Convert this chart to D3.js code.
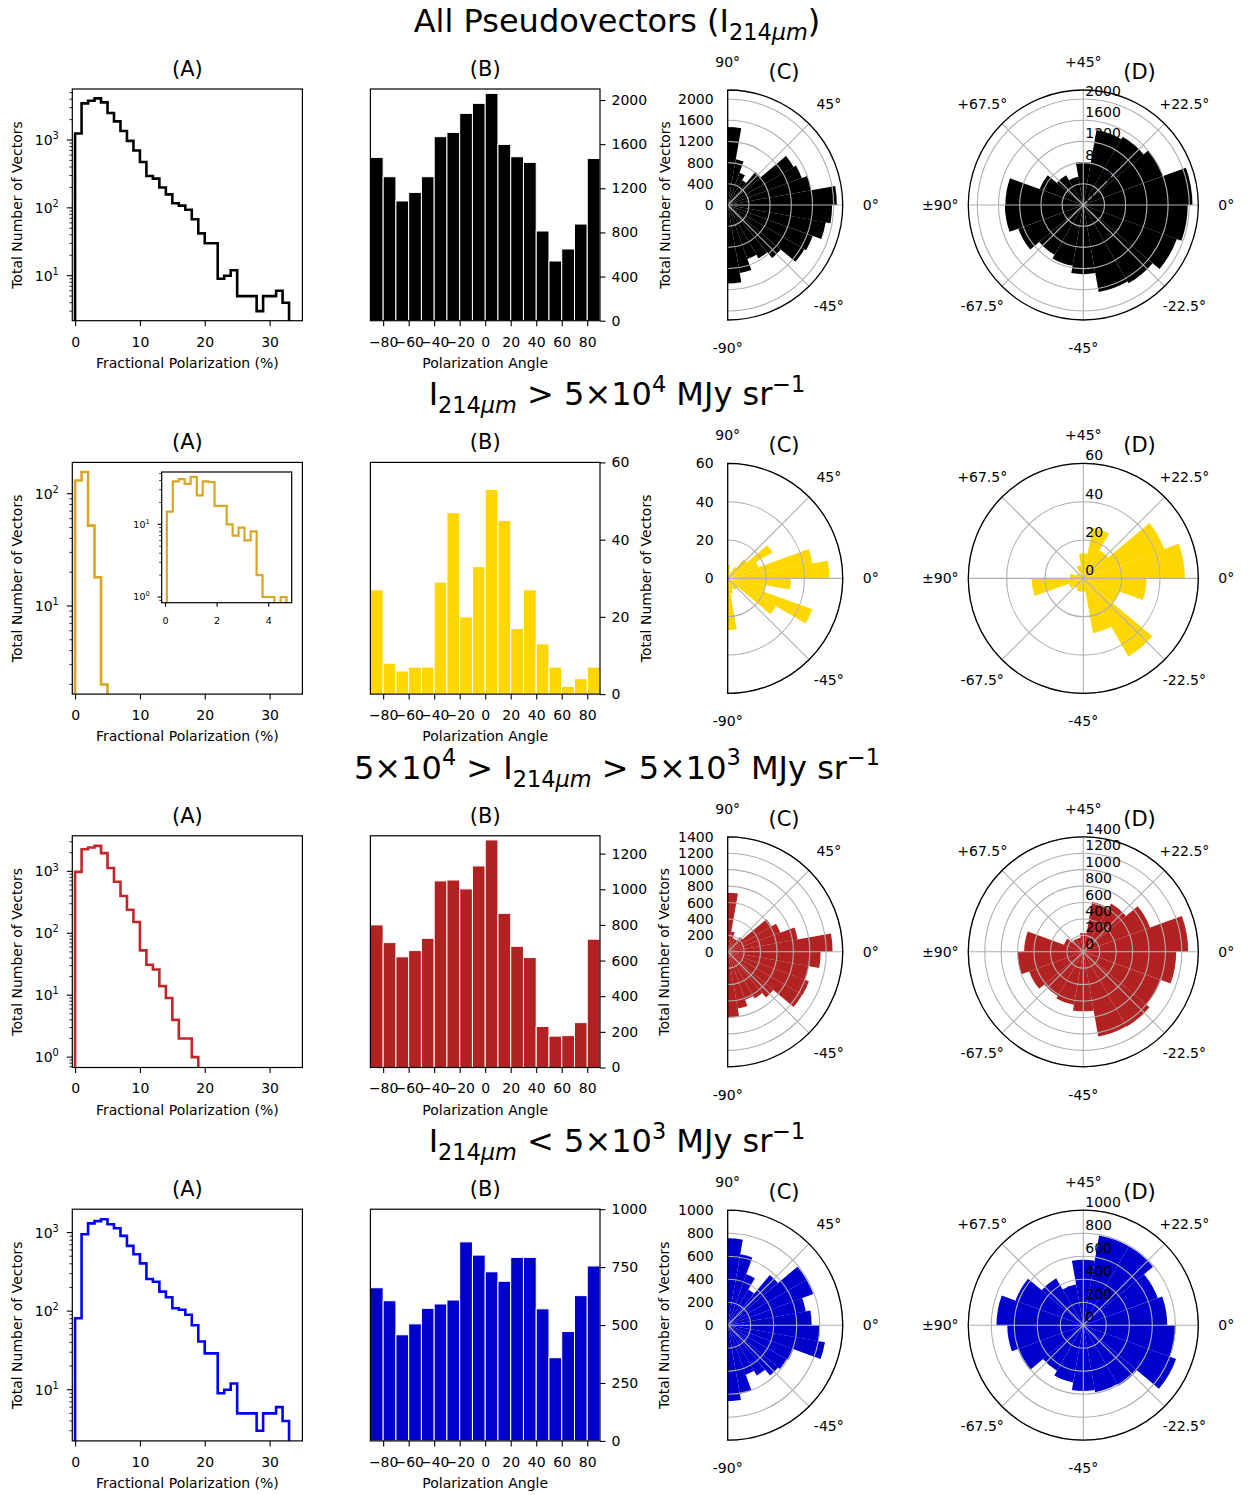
<!DOCTYPE html>
<html>
<head>
<meta charset="utf-8">
<script src="https://cdn.jsdelivr.net/npm/d3@7"></script>
<style>
  body { margin: 0; background: #fff; }
  svg { font-family: "DejaVu Sans", sans-serif; }
</style>
</head>
<body>
<svg id="fig" width="1247" height="1495"></svg>
<script>
// ---- bin edges ----
var angleEdges = [-90, -80, -70, -60, -50, -40, -30, -20, -10, 0, 10, 20, 30, 40, 50, 60, 70, 80, 90];
var fracEdges = [0, 1, 2, 3, 4, 5, 6, 7, 8, 9, 10, 11, 12, 13, 14, 15, 16, 17, 18, 19, 20,
                 21, 22, 23, 24, 25, 26, 27, 28, 29, 30, 31, 32, 33];
var insetEdges = [0.07, 0.30, 0.53, 0.76, 0.99, 1.23, 1.46, 1.69, 1.92, 2.15, 2.39,
                  2.62, 2.85, 3.08, 3.32, 3.55, 3.78, 4.01, 4.24, 4.48, 4.71];

// ---- fractional polarization counts (1% bins) ----
var fracAll = [1250, 3470, 3800, 4110, 3590, 2500, 1880, 1360, 970, 700, 475, 295, 270, 200, 158, 117,
               108, 94, 68, 42, 30, 30, 9, 10, 12, 5, 5, 5, 3, 5, 5, 6, 4];
var fracBright = [131, 156, 52, 18, 2];
var fracMid = [980, 2280, 2430, 2580, 1970, 1130, 680, 400, 240, 152, 53, 31, 26, 14, 9, 4, 2, 2, 1];
var fracFaint = [81, 950, 1310, 1400, 1475, 1275, 1135, 908, 677, 530, 405, 256, 237, 177, 150, 109,
                 104, 90, 66, 41, 29, 29, 9, 10, 12, 5, 5, 5, 3, 5, 5, 6, 4];
var fracBrightInset = [15, 39, 42, 36, 45, 25, 39, 38, 18, 18, 10, 7, 9, 6, 8, 2, 1, 1, 0, 1];

// ---- polarization angle counts (10 deg bins) ----
var angAll = [1480, 1305, 1085, 1163, 1305, 1668, 1707, 1879, 1970, 2060, 1598, 1486, 1435, 813, 541, 650, 876, 1471];
var angBright = [27, 8, 6, 7, 7, 29, 47, 20, 33, 53, 45, 17, 27, 13, 7, 2, 4, 7];
var angMid = [800, 701, 621, 656, 725, 1047, 1052, 1002, 1131, 1277, 865, 680, 617, 230, 176, 179, 252, 720];
var angFaint = [661, 605, 458, 505, 572, 591, 608, 859, 802, 730, 689, 792, 792, 570, 359, 472, 627, 755];

// ---- ticks / limits ----
var fracXLim = [-0.43, 35.06];
var fracXTicks = [0, 10, 20, 30];
var fracYLims = [[2.17, 5650], [1.64, 190], [0.68, 3750], [2.23, 1983]];
var fracYTicks = [[10, 100, 1000], [10, 100], [1, 10, 100, 1000], [10, 100, 1000]];
var angXTicks = [-80, -60, -40, -20, 0, 20, 40, 60, 80];
var angYMax = [2100, 60, 1300, 1000];
var angYTicks = [[0, 400, 800, 1200, 1600, 2000], [0, 20, 40, 60],
                 [0, 200, 400, 600, 800, 1000, 1200], [0, 250, 500, 750, 1000]];
var polarRMax = [2170, 60, 1400, 1000];
var polarRTicks = [[0, 400, 800, 1200, 1600, 2000], [0, 20, 40, 60],
                   [0, 200, 400, 600, 800, 1000, 1200, 1400], [0, 200, 400, 600, 800, 1000]];
var halfThetaTicks = [90, 45, 0, -45, -90];
var halfThetaLabels = ["90°", "45°", "0°", "-45°", "-90°"];
var fullThetaTicks = [90, 45, 0, -45, -90, -135, 180, 135];
var fullThetaLabels = ["+45°", "+22.5°", "0°", "-22.5°", "-45°", "-67.5°", "±90°", "+67.5°"];
var insetXTicks = [0, 2, 4];
var insetYTicks = [1, 10];

var stepColors = ["#000000", "#daa520", "#c2262b", "#0000ff"];
var barColors = ["#000000", "#ffd700", "#b22222", "#0000cd"];

var sectionTitles = [
  [["All Pseudovectors ("], ["I"], ["214", "sub"], ["μm", "sub", true], [")"]],
  [["I"], ["214", "sub"], ["μm", "sub", true], [" > 5×10"], ["4", "sup"], [" MJy sr"], ["−1", "sup"]],
  [["5×10"], ["4", "sup"], [" > I"], ["214", "sub"], ["μm", "sub", true], [" > 5×10"], ["3", "sup"], [" MJy sr"], ["−1", "sup"]],
  [["I"], ["214", "sub"], ["μm", "sub", true], [" < 5×10"], ["3", "sup"], [" MJy sr"], ["−1", "sup"]]
];

var fracCounts = [fracAll, fracBright, fracMid, fracFaint];
var angCounts = [angAll, angBright, angMid, angFaint];

// ---- layout ----
var FONT = '"DejaVu Sans", sans-serif';
var ROW_DY = 373.4;
var FS = 14;
var TITLE_FS = 32;
var SUB_FS = 21;
var GRID = "#b0b0b0";
var A_BOX = {x0: 72.3, x1: 302.4, y0: 89, y1: 320.7};
var B_BOX = {x0: 370.4, x1: 600, y0: 89, y1: 320.7};
var IN_BOX = {x0: 161.7, x1: 291.7, y0: 98.6, y1: 229.3};
var C_CEN = {x: 727.7, y: 205};
var D_CEN = {x: 1083.3, y: 205};
var POL_R = 115;
var cLabelX = [665, 646, 664, 664];

var svg = d3.select('#fig');

function rad(d) { return d * Math.PI / 180; }

function addRich(sel, segs, fs) {
  var cur = 0;
  segs.forEach(function(s) {
    var mode = s[1] || 'n';
    var shift = mode === 'sub' ? 0.25 * fs : (mode === 'sup' ? -0.42 * fs : 0);
    var ts = sel.append('tspan').text(s[0]);
    if (shift !== cur) ts.attr('dy', shift - cur);
    if (mode !== 'n') ts.attr('font-size', (fs * 0.7) + 'px');
    if (s[2]) ts.attr('font-style', 'italic');
    cur = shift;
  });
}

function styleAxis(ax, fs) {
  ax.attr('font-family', FONT).attr('font-size', fs);
  ax.select('.domain').remove();
  ax.selectAll('.tick line').attr('stroke', '#000').attr('stroke-width', 1.1);
  ax.selectAll('.tick text').attr('fill', '#000');
}

function drawLogAxis(g, y, dom, majors, x0, fs, lenMaj, lenMin, gap) {
  var lo = Math.floor(Math.log10(dom[0])), hi = Math.ceil(Math.log10(dom[1]));
  var minors = [];
  for (var e = lo; e <= hi; e++) {
    for (var k = 2; k <= 9; k++) {
      var v = k * Math.pow(10, e);
      if (v >= dom[0] && v <= dom[1]) minors.push(v);
    }
  }
  g.selectAll(null).data(minors).enter().append('line')
    .attr('x1', x0).attr('x2', x0 - lenMin)
    .attr('y1', function(d) { return y(d); }).attr('y2', function(d) { return y(d); })
    .attr('stroke', '#000').attr('stroke-width', 0.8);
  g.selectAll(null).data(majors).enter().append('line')
    .attr('x1', x0).attr('x2', x0 - lenMaj)
    .attr('y1', function(d) { return y(d); }).attr('y2', function(d) { return y(d); })
    .attr('stroke', '#000').attr('stroke-width', 1.1);
  majors.forEach(function(v) {
    var t = g.append('text').attr('x', x0 - lenMaj - gap).attr('y', y(v) + fs * 0.36)
      .attr('text-anchor', 'end').attr('font-size', fs + 'px');
    addRich(t, [["10"], [String(Math.round(Math.log10(v))), "sup"]], fs);
  });
}

function stepPath(edges, counts, x, y, yBottom) {
  var pts = [[x(edges[0]), yBottom]];
  counts.forEach(function(c, i) {
    var yy = c > 0 ? y(c) : yBottom;
    pts.push([x(edges[i]), yy]);
    pts.push([x(edges[i + 1]), yy]);
  });
  pts.push([x(edges[counts.length]), yBottom]);
  return d3.line()(pts);
}

function frame(g, b) {
  g.append('rect').attr('x', b.x0).attr('y', b.y0)
    .attr('width', b.x1 - b.x0).attr('height', b.y1 - b.y0)
    .attr('fill', 'none').attr('stroke', '#000').attr('stroke-width', 1.2);
}

function clipRect(g, id, b) {
  g.append('clipPath').attr('id', id).append('rect')
    .attr('x', b.x0).attr('y', b.y0).attr('width', b.x1 - b.x0).attr('height', b.y1 - b.y0);
}

function drawFracPanel(g, r) {
  var b = A_BOX;
  var x = d3.scaleLinear().domain(fracXLim).range([b.x0, b.x1]);
  var y = d3.scaleLog().domain(fracYLims[r]).range([b.y1, b.y0]);
  var counts = fracCounts[r];
  clipRect(g, 'clipA' + r, b);
  g.append('path')
    .attr('d', stepPath(fracEdges, counts, x, y, b.y1 + 20))
    .attr('fill', 'none').attr('stroke', stepColors[r]).attr('stroke-width', 2.6)
    .attr('clip-path', 'url(#clipA' + r + ')');
  frame(g, b);
  g.append('g').attr('transform', 'translate(0,' + b.y1 + ')')
    .call(d3.axisBottom(x).tickValues(fracXTicks).tickFormat(d3.format('d')).tickSize(5.5).tickPadding(10.5))
    .call(styleAxis, FS);
  drawLogAxis(g, y, fracYLims[r], fracYTicks[r], b.x0, FS, 5.5, 3, 8);
  g.append('text').attr('x', (b.x0 + b.x1) / 2).attr('y', 368).attr('text-anchor', 'middle')
    .attr('font-size', FS + 'px').text('Fractional Polarization (%)');
  g.append('text').attr('transform', 'translate(22.4,205) rotate(-90)').attr('text-anchor', 'middle')
    .attr('font-size', FS + 'px').text('Total Number of Vectors');
  g.append('text').attr('x', (b.x0 + b.x1) / 2).attr('y', 76).attr('text-anchor', 'middle')
    .attr('font-size', SUB_FS + 'px').text('(A)');

  if (r === 1) {
    var ib = IN_BOX;
    var ix = d3.scaleLinear().domain([-0.13, 4.91]).range([ib.x0, ib.x1]);
    var iy = d3.scaleLog().domain([0.835, 52.5]).range([ib.y1, ib.y0]);
    g.append('rect').attr('x', ib.x0).attr('y', ib.y0).attr('width', ib.x1 - ib.x0)
      .attr('height', ib.y1 - ib.y0).attr('fill', '#fff');
    clipRect(g, 'clipInset', ib);
    g.append('path')
      .attr('d', stepPath(insetEdges, fracBrightInset, ix, iy, ib.y1 + 20))
      .attr('fill', 'none').attr('stroke', stepColors[r]).attr('stroke-width', 2.2)
      .attr('clip-path', 'url(#clipInset)');
    frame(g, ib);
    g.append('g').attr('transform', 'translate(0,' + ib.y1 + ')')
      .call(d3.axisBottom(ix).tickValues(insetXTicks).tickFormat(d3.format('d')).tickSize(4).tickPadding(11))
      .call(styleAxis, 9.5);
    drawLogAxis(g, iy, [0.835, 52.5], insetYTicks, ib.x0, 9.5, 4, 2.5, 8);
  }
}

function drawAnglePanel(g, r) {
  var b = B_BOX;
  var x = d3.scaleLinear().domain([-90, 90]).range([b.x0, b.x1]);
  var y = d3.scaleLinear().domain([0, angYMax[r]]).range([b.y1, b.y0]);
  var counts = angCounts[r];
  g.selectAll(null).data(counts).enter().append('rect')
    .attr('x', function(d, i) { return x(angleEdges[i]); })
    .attr('width', function(d, i) { return x(angleEdges[i + 1]) - x(angleEdges[i]); })
    .attr('y', function(d) { return y(d); })
    .attr('height', function(d) { return b.y1 - y(d); })
    .attr('fill', barColors[r]).attr('stroke', '#fff').attr('stroke-width', 1);
  frame(g, b);
  g.append('g').attr('transform', 'translate(0,' + b.y1 + ')')
    .call(d3.axisBottom(x).tickValues(angXTicks).tickFormat(d3.format('d')).tickSize(5.5).tickPadding(10.5))
    .call(styleAxis, FS);
  g.append('g').attr('transform', 'translate(' + b.x1 + ',0)')
    .call(d3.axisRight(y).tickValues(angYTicks[r]).tickFormat(d3.format('d')).tickSize(5.5).tickPadding(6))
    .call(styleAxis, FS);
  g.append('text').attr('x', (b.x0 + b.x1) / 2).attr('y', 368).attr('text-anchor', 'middle')
    .attr('font-size', FS + 'px').text('Polarization Angle');
  g.append('text').attr('x', (b.x0 + b.x1) / 2).attr('y', 76).attr('text-anchor', 'middle')
    .attr('font-size', SUB_FS + 'px').text('(B)');
}

function drawHalfPolar(g, r) {
  var rs = d3.scaleLinear().domain([0, polarRMax[r]]).range([0, POL_R]);
  var gg = g.append('g').attr('transform', 'translate(' + C_CEN.x + ',' + C_CEN.y + ')');
  var arc = d3.arc().innerRadius(0);
  gg.selectAll(null).data(angCounts[r]).enter().append('path')
    .attr('d', function(c, i) {
      return arc({outerRadius: rs(c),
                  startAngle: Math.PI / 2 - rad(angleEdges[i + 1]),
                  endAngle: Math.PI / 2 - rad(angleEdges[i])});
    })
    .attr('fill', barColors[r]);
  polarRTicks[r].filter(function(v) { return v > 0; }).forEach(function(v) {
    var p = d3.path();
    p.arc(0, 0, rs(v), -Math.PI / 2, Math.PI / 2);
    gg.append('path').attr('d', p.toString()).attr('fill', 'none')
      .attr('stroke', GRID).attr('stroke-width', 1.1);
  });
  [45, 0, -45].forEach(function(a) {
    gg.append('line').attr('x1', 0).attr('y1', 0)
      .attr('x2', POL_R * Math.cos(rad(a))).attr('y2', -POL_R * Math.sin(rad(a)))
      .attr('stroke', GRID).attr('stroke-width', 1.1);
  });
  var sp = d3.path();
  sp.moveTo(0, -POL_R);
  sp.arc(0, 0, POL_R, -Math.PI / 2, Math.PI / 2);
  sp.closePath();
  gg.append('path').attr('d', sp.toString()).attr('fill', 'none')
    .attr('stroke', '#000').attr('stroke-width', 1.3);
  polarRTicks[r].forEach(function(v) {
    gg.append('text').attr('x', -14).attr('y', -rs(v) + 5).attr('text-anchor', 'end')
      .attr('font-size', FS + 'px').text(v);
  });
  halfThetaTicks.forEach(function(a, i) {
    gg.append('text').attr('x', 143 * Math.cos(rad(a))).attr('y', -143 * Math.sin(rad(a)) + 5)
      .attr('text-anchor', 'middle').attr('font-size', FS + 'px').text(halfThetaLabels[i]);
  });
  g.append('text').attr('transform', 'translate(' + (cLabelX[r] + 4.6) + ',205) rotate(-90)')
    .attr('text-anchor', 'middle').attr('font-size', FS + 'px').text('Total Number of Vectors');
  g.append('text').attr('x', 784).attr('y', 79).attr('text-anchor', 'middle')
    .attr('font-size', SUB_FS + 'px').text('(C)');
}

function drawFullPolar(g, r) {
  var rs = d3.scaleLinear().domain([0, polarRMax[r]]).range([0, POL_R]);
  var gg = g.append('g').attr('transform', 'translate(' + D_CEN.x + ',' + D_CEN.y + ')');
  var arc = d3.arc().innerRadius(0);
  // doubled angles: full circle
  gg.selectAll(null).data(angCounts[r]).enter().append('path')
    .attr('d', function(c, i) {
      return arc({outerRadius: rs(c),
                  startAngle: Math.PI / 2 - 2 * rad(angleEdges[i + 1]),
                  endAngle: Math.PI / 2 - 2 * rad(angleEdges[i])});
    })
    .attr('fill', barColors[r]);
  polarRTicks[r].filter(function(v) { return v > 0; }).forEach(function(v) {
    gg.append('circle').attr('r', rs(v)).attr('fill', 'none')
      .attr('stroke', GRID).attr('stroke-width', 1.1);
  });
  [0, 45, 90, 135, 180, 225, 270, 315].forEach(function(a) {
    gg.append('line').attr('x1', 0).attr('y1', 0)
      .attr('x2', POL_R * Math.cos(rad(a))).attr('y2', -POL_R * Math.sin(rad(a)))
      .attr('stroke', GRID).attr('stroke-width', 1.1);
  });
  gg.append('circle').attr('r', POL_R).attr('fill', 'none')
    .attr('stroke', '#000').attr('stroke-width', 1.3);
  polarRTicks[r].forEach(function(v) {
    gg.append('text').attr('x', 2).attr('y', -rs(v) - 3).attr('text-anchor', 'start')
      .attr('font-size', FS + 'px').text(v);
  });
  fullThetaTicks.forEach(function(a, i) {
    gg.append('text').attr('x', 143 * Math.cos(rad(a))).attr('y', -143 * Math.sin(rad(a)) + 5)
      .attr('text-anchor', 'middle').attr('font-size', FS + 'px').text(fullThetaLabels[i]);
  });
  g.append('text').attr('x', 1139.5).attr('y', 79).attr('text-anchor', 'middle')
    .attr('font-size', SUB_FS + 'px').text('(D)');
}

[0, 1, 2, 3].forEach(function(r) {
  var g = svg.append('g').attr('transform', 'translate(0,' + (r * ROW_DY) + ')');
  var t = g.append('text').attr('x', 617).attr('y', 32).attr('text-anchor', 'middle')
    .attr('font-size', TITLE_FS + 'px');
  addRich(t, sectionTitles[r], TITLE_FS);
  drawFracPanel(g, r);
  drawAnglePanel(g, r);
  drawHalfPolar(g, r);
  drawFullPolar(g, r);
});
</script>
</body>
</html>
